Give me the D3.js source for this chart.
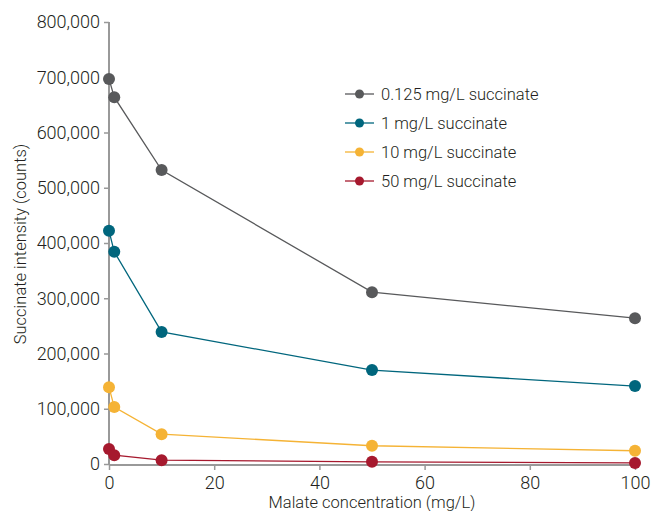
<!DOCTYPE html>
<html>
<head>
<meta charset="utf-8">
<script src="https://cdn.jsdelivr.net/npm/d3@7"></script>
<style>
body{margin:0;background:#fff}
text{font-family:Roboto,"Liberation Sans",sans-serif;fill:#231f20}
</style>
</head>
<body>
<div></div>
<script>
// data
const malate = [0, 1, 10, 50, 100]
const seriesNames = ["0.125 mg/L succinate", "1 mg/L succinate", "10 mg/L succinate", "50 mg/L succinate"]
const s0125 = [697000, 664000, 532000, 311000, 264000]
const s1 = [422000, 384000, 239000, 170000, 141000]
const s10 = [139000, 103000, 54000, 33000, 24000]
const s50 = [27000, 16000, 7000, 4000, 2000]
const colors = ["#58595b", "#00667d", "#f5b335", "#a6192e"]
const xTicks = [0, 20, 40, 60, 80, 100]
const yTicks = [0, 100000, 200000, 300000, 400000, 500000, 600000, 700000, 800000]

const svgWidth = 654, svgHeight = 511
const margin = {top:22, right:19, bottom:46, left:109}

function translate(x,y){return `translate(${x}, ${y})`}

const svg = d3.select("div").append("svg").attr("width", svgWidth).attr("height", svgHeight)
const g = svg.append("g").attr("transform", translate(margin.left, margin.top))

const x = d3.scaleLinear().domain([0,100]).range([0, 526])
const y = d3.scaleLinear().domain([0,800000]).range([442, 0])

// axes
const xAxis = d3.axisBottom(x).tickValues(xTicks).tickSize(5).tickPadding(6).tickSizeOuter(0)
const yAxis = d3.axisLeft(y).tickValues(yTicks).tickSize(5).tickPadding(4).tickFormat(d3.format(","))

const gx = g.append("g").attr("transform", translate(0, 443)).call(xAxis)
gx.select(".domain").attr("d", "M0,0H531")
const gy = g.append("g").call(yAxis)
gy.select(".domain").attr("d", "M0,0V443")
g.selectAll(".domain").attr("stroke", "#999").attr("stroke-width", 2)
g.selectAll(".tick line").attr("stroke", "#999").attr("stroke-width", 1.5)
g.selectAll(".tick text").attr("font-size", 18).style("font-family", "Roboto").attr("font-weight", 300).attr("fill", "#231f20")

// axis titles
svg.append("text").attr("x", 372).attr("y", 508).attr("text-anchor", "middle")
  .attr("font-size", 16.5).attr("font-weight", 300).text("Malate concentration (mg/L)")
svg.append("text").attr("transform", "translate(26,244) rotate(-90)").attr("text-anchor", "middle")
  .attr("font-size", 16.5).attr("font-weight", 300).text("Succinate intensity (counts)")

// series
const allSeries = [s0125, s1, s10, s50]
const line = d3.line().x((d,i) => x(malate[i])).y(d => y(d))

allSeries.forEach(function(vals, k){
  g.append("path").datum(vals).attr("d", line).attr("fill", "none")
    .attr("stroke", colors[k]).attr("stroke-width", 1.3)
  g.selectAll("circle.s"+k).data(vals).join("circle").attr("class", "s"+k)
    .attr("cx", (d,i) => x(malate[i])).attr("cy", d => y(d)).attr("r", 6)
    .attr("fill", colors[k])
})

// legend
const legend = svg.append("g").attr("transform", translate(345, 94))
seriesNames.forEach(function(name, k){
  const row = legend.append("g").attr("transform", translate(0, k*29))
  row.append("line").attr("x1", 0).attr("x2", 29).attr("stroke", colors[k]).attr("stroke-width", 1.3)
  row.append("circle").attr("cx", 14.5).attr("r", 4.5).attr("fill", colors[k])
  row.append("text").attr("x", 36).attr("y", 6).attr("font-size", 16.5).attr("font-weight", 300).text(name)
})
</script>
</body>
</html>
